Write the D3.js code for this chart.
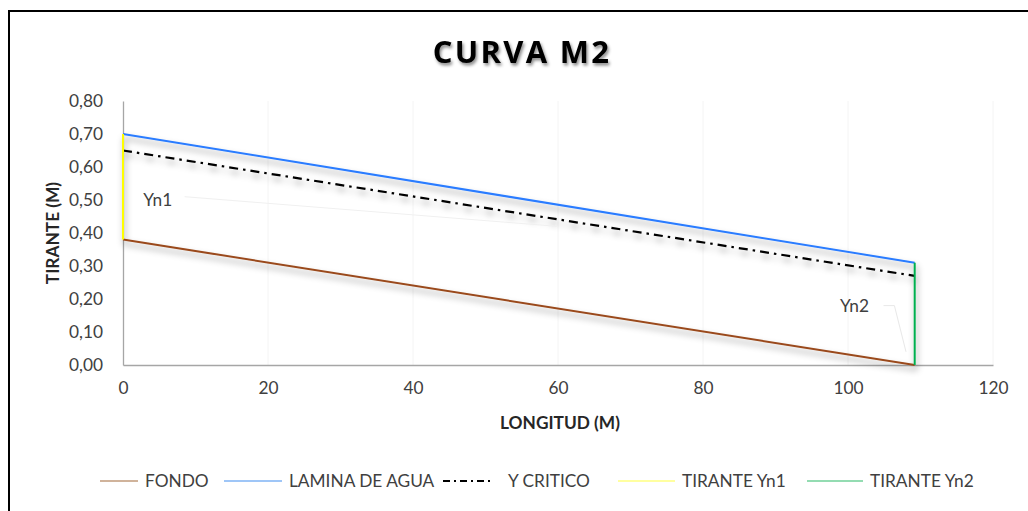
<!DOCTYPE html>
<html>
<head>
<meta charset="utf-8">
<script src="https://cdn.jsdelivr.net/npm/d3@7"></script>
<style>
  html, body { margin: 0; padding: 0; background: #fff; }
  svg { display: block; }
</style>
</head>
<body>
<svg id="chart" width="1028" height="511"></svg>
<script>
// Longitud (m) at start and end of the reach
const longitud = [0, 109.2];
// Profiles (m)
const fondo = [0.38, 0.0];
const laminaAgua = [0.70, 0.31];
const yCritico = [0.65, 0.27];
// Normal depth verticals
const tiranteYn1 = { x: 0, y: [0.38, 0.70] };
const tiranteYn2 = { x: 109.2, y: [0.0, 0.31] };

const xTicks = [0, 20, 40, 60, 80, 100, 120];
const yTicks = [0, 0.1, 0.2, 0.3, 0.4, 0.5, 0.6, 0.7, 0.8];

const legendNames = ["FONDO", "LAMINA DE AGUA", "Y CRITICO", "TIRANTE Yn1", "TIRANTE Yn2"];
const colors = {
  fondo: "#9a4a1c",
  lamina: "#2a7cff",
  critico: "#000000",
  yn1: "#ffff00",
  yn2: "#00b050"
};

const svg = d3.select("#chart");
const font = "Lato, 'Open Sans', sans-serif";
const fs = 17.3;

const defs = svg.append("defs");
const sh = defs.append("filter").attr("id", "shadow")
  .attr("x", "-5%").attr("y", "-50%").attr("width", "110%").attr("height", "200%");
sh.append("feDropShadow").attr("dx", 1.5).attr("dy", 4.5).attr("stdDeviation", 3)
  .attr("flood-color", "#000").attr("flood-opacity", 0.4);
const tsh = defs.append("filter").attr("id", "tshadow");
tsh.append("feDropShadow").attr("dx", 1.5).attr("dy", 2.5).attr("stdDeviation", 1.8)
  .attr("flood-color", "#000").attr("flood-opacity", 0.45);

// Outer frame
svg.append("rect").attr("x", 9).attr("y", 11).attr("width", 1030).attr("height", 520)
  .attr("fill", "#fff").attr("stroke", "#000").attr("stroke-width", 2);

const x = d3.scaleLinear().domain([0, 120]).range([123, 993]);
const y = d3.scaleLinear().domain([0, 0.8]).range([365, 101]);

// Faint vertical gridlines
svg.append("g").selectAll("line").data(xTicks.slice(1)).join("line")
  .attr("x1", d => x(d)).attr("x2", d => x(d))
  .attr("y1", y(0.8)).attr("y2", y(0))
  .attr("stroke", "#f4f4f4").attr("stroke-width", 1);

// Axes
const fmt = d => d3.format(".2f")(d).replace(".", ",");
const gx = svg.append("g").attr("transform", `translate(0,${y(0)})`)
  .call(d3.axisBottom(x).tickValues(xTicks).tickSize(0).tickPadding(17));
gx.select(".domain").attr("stroke", "#a6a6a6").attr("stroke-width", 1.3);
gx.selectAll("text").attr("font-family", font).attr("font-size", fs).attr("fill", "#404040");

const gy = svg.append("g").attr("transform", `translate(${x(0)},0)`)
  .call(d3.axisLeft(y).tickValues(yTicks).tickFormat(fmt).tickSize(0).tickPadding(20));
gy.select(".domain").attr("stroke", "#a6a6a6").attr("stroke-width", 1.3);
gy.selectAll("text").attr("font-family", font).attr("font-size", fs).attr("fill", "#404040");

// Profiles
const line = d3.line().x(d => x(d[0])).y(d => y(d[1]));
const plot = svg.append("g").attr("filter", "url(#shadow)");

plot.append("path").datum(d3.zip(longitud, fondo)).attr("d", line)
  .attr("fill", "none").attr("stroke", colors.fondo).attr("stroke-width", 2);
plot.append("path").datum(d3.zip(longitud, laminaAgua)).attr("d", line)
  .attr("fill", "none").attr("stroke", colors.lamina).attr("stroke-width", 2);
plot.append("path").datum(d3.zip(longitud, yCritico)).attr("d", line)
  .attr("fill", "none").attr("stroke", colors.critico).attr("stroke-width", 2.2)
  .attr("stroke-dasharray", "9,5,2.5,5");
plot.append("path").datum(tiranteYn1.y.map(v => [tiranteYn1.x, v])).attr("d", line)
  .attr("fill", "none").attr("stroke", colors.yn1).attr("stroke-width", 2);
plot.append("path").datum(tiranteYn2.y.map(v => [tiranteYn2.x, v])).attr("d", line)
  .attr("fill", "none").attr("stroke", colors.yn2).attr("stroke-width", 2);

// Data labels with leader lines
svg.append("path")
  .attr("d", `M${x(8.5)},${y(0.51)} L${x(60)},${y(0.42)}`)
  .attr("stroke", "#f0f0f0").attr("fill", "none").attr("stroke-width", 1);
svg.append("text").attr("x", x(2.8)).attr("y", y(0.5) + 6)
  .attr("font-family", font).attr("font-size", fs).attr("fill", "#404040").text("Yn1");
svg.append("path")
  .attr("d", `M${x(104.9)},${y(0.18)} L${x(106.4)},${y(0.18)} L${x(108)},${y(0.04)}`)
  .attr("stroke", "#e8e8e8").attr("fill", "none").attr("stroke-width", 1);
svg.append("text").attr("x", x(98.9)).attr("y", y(0.18) + 6)
  .attr("font-family", font).attr("font-size", fs).attr("fill", "#404040").text("Yn2");

// Title
svg.append("text").attr("x", 522).attr("y", 63).attr("text-anchor", "middle")
  .attr("font-family", "'Open Sans', sans-serif").attr("font-weight", "bold")
  .attr("font-size", 31).attr("letter-spacing", 2.3).attr("fill", "#000")
  .attr("filter", "url(#tshadow)").text("CURVA M2");

// Axis titles
svg.append("text").attr("x", 560).attr("y", 429).attr("text-anchor", "middle")
  .attr("font-family", font).attr("font-weight", "bold").attr("font-size", fs)
  .attr("fill", "#262626").text("LONGITUD (M)");
svg.append("text").attr("transform", `translate(59,${y(0.4)}) rotate(-90)`)
  .attr("text-anchor", "middle")
  .attr("font-family", font).attr("font-weight", "bold").attr("font-size", fs)
  .attr("fill", "#262626").text("TIRANTE (M)");

// Legend
const legendItems = [
  { name: legendNames[0], color: "#c09a7a", dash: null, x1: 100, x2: 138, tx: 145 },
  { name: legendNames[1], color: "#7fb3f5", dash: null, x1: 224, x2: 282, tx: 289 },
  { name: legendNames[2], color: "#000000", dash: "7,4,2,4", x1: 443, x2: 493, tx: 508 },
  { name: legendNames[3], color: "#ffff80", dash: null, x1: 618, x2: 675, tx: 682 },
  { name: legendNames[4], color: "#70d098", dash: null, x1: 807, x2: 863, tx: 870 }
];
const lg = svg.append("g");
legendItems.forEach(it => {
  lg.append("line").attr("x1", it.x1).attr("x2", it.x2).attr("y1", 481).attr("y2", 481)
    .attr("stroke", it.color).attr("stroke-width", it.dash ? 2 : 1.5)
    .attr("stroke-dasharray", it.dash);
  lg.append("text").attr("x", it.tx).attr("y", 487)
    .attr("font-family", font).attr("font-size", fs).attr("fill", "#404040").text(it.name);
});
</script>
</body>
</html>
